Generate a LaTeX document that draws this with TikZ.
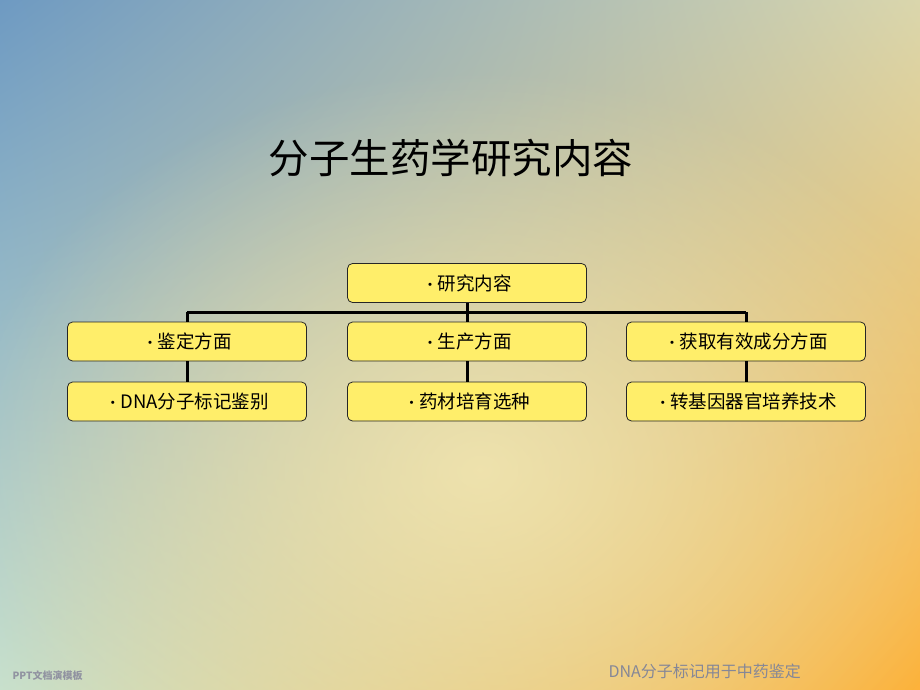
\documentclass[tikz,border=0pt]{standalone}
\usepackage{fontspec}
\setmainfont{Noto Sans CJK SC}
\usetikzlibrary{shadings,fadings}
\definecolor{boxfill}{HTML}{FFEE6A}
\definecolor{bgtl}{HTML}{6E9AC2}
\definecolor{bgtr}{HTML}{DAD6AC}
\definecolor{bgbl}{HTML}{C8E0CC}
\definecolor{bgbr}{HTML}{FDB23A}
\definecolor{bgglow}{HTML}{F6EAB4}
\definecolor{footgray}{HTML}{858797}
\tikzfading[name=glowfade, inner color=transparent!0, outer color=transparent!100]
\tikzset{
  item/.style={draw=black!85, line width=0.8pt, fill=boxfill, rounded corners=5pt,
    minimum width=239pt, minimum height=39pt, inner sep=0pt, font=\fontsize{18.5}{20}\selectfont},
  link/.style={line width=3pt, black}
}
\newcommand{\bul}{{\fontsize{15}{15}\selectfont\textbullet}}

\begin{document}
\begin{tikzpicture}[x=1pt, y=-1pt]
  \useasboundingbox (0,0) rectangle (920,690);
  \shade[upper left=bgtl, upper right=bgtr, lower left=bgbl, lower right=bgbr] (0,0) rectangle (920,690);
  \fill[bgglow, path fading=glowfade, fill opacity=0.8] (480,470) ellipse (520pt and 400pt);

  \node[font=\fontsize{40.5}{44}\selectfont] (title) at (451,158) {分子生药学研究内容};

  \node[item] (top) at (467,283) {\bul 研究内容};
  \node[item] (m1) at (187,341.5) {\bul 鉴定方面};
  \node[item] (m2) at (467,341.5) {\bul 生产方面};
  \node[item] (m3) at (746,341.5) {\bul 获取有效成分方面};
  \node[item] (b1) at (187,401.5) {\bul DNA分子标记鉴别};
  \node[item] (b2) at (467,401.5) {\bul 药材培育选种};
  \node[item] (b3) at (746,401.5) {\bul 转基因器官培养技术};

  \coordinate (barL) at (187,312);
  \coordinate (barR) at (746,312);
  \draw[link] (barL) -- (barR);
  \draw[link] (top.south) -- (top.south |- barL);
  \foreach \i in {1,2,3}{
    \draw[link] (m\i.north) -- (m\i.north |- barL);
    \draw[link] (m\i.south) -- (b\i.north);
  }

  \node[font=\fontsize{10}{10}\selectfont\bfseries, text=footgray!90, anchor=west] (mark) at (9,676) {PPT文档演模板};
  \node[font=\fontsize{16}{16}\selectfont, text=footgray, anchor=west] (foot) at (605,671) {DNA分子标记用于中药鉴定};
\end{tikzpicture}
\end{document}
